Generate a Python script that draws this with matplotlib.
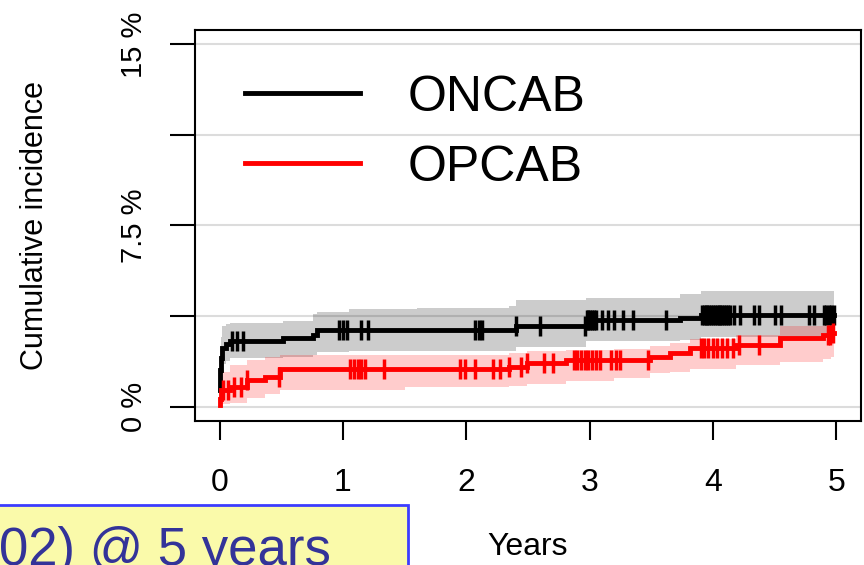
import numpy as np
import matplotlib.pyplot as plt
from matplotlib.patches import Rectangle

plt.rcParams['font.family'] = ['Liberation Sans', 'DejaVu Sans']

# ONCAB: step times (years), cumulative incidence (%) and 95% band
oncab_t = [0, 0.003, 0.01, 0.02, 0.054, 0.08, 0.51, 0.76, 0.79, 1.05, 1.60, 2.35, 2.40, 2.97, 3.73, 3.90]
oncab_v = [0.70, 1.50, 2.00, 2.43, 2.57, 2.70, 2.82, 2.98, 3.15, 3.15, 3.17, 3.19, 3.33, 3.60, 3.67, 3.81]
oncab_lo = [0.20, 0.85, 1.30, 1.75, 1.90, 2.00, 2.05, 2.15, 2.25, 2.28, 2.30, 2.32, 2.45, 2.70, 2.75, 2.90]
oncab_hi = [1.50, 2.40, 2.90, 3.35, 3.40, 3.45, 3.55, 3.85, 3.90, 4.03, 4.10, 4.15, 4.42, 4.48, 4.66, 4.80]
oncab_cens = [0.10, 0.14, 0.19, 0.97, 1.00, 1.03, 1.15, 1.20, 2.07, 2.10, 2.13, 2.40, 2.60,
              2.96, 2.975, 2.99, 3.005, 3.02, 3.035, 3.05, 3.10, 3.15, 3.20, 3.27, 3.35, 3.62,
              3.91, 3.925, 3.94, 3.955, 3.97, 3.985, 4.00, 4.015, 4.03, 4.045, 4.06, 4.075,
              4.09, 4.105, 4.12, 4.14, 4.17, 4.22, 4.33, 4.37, 4.50, 4.55, 4.78, 4.82,
              4.90, 4.92, 4.94, 4.96, 4.98]

# OPCAB
opcab_t = [0, 0.003, 0.008, 0.012, 0.08, 0.22, 0.37, 0.49, 1.50, 2.35, 2.49, 2.81, 3.20, 3.49, 3.65,
           3.81, 4.19, 4.54, 4.89, 4.96]
opcab_v = [0.05, 0.30, 0.55, 0.68, 0.82, 1.10, 1.23, 1.55, 1.55, 1.65, 1.79, 1.93, 1.93, 2.05, 2.20,
           2.41, 2.55, 2.82, 2.95, 3.05]
opcab_lo = [0.00, 0.00, 0.05, 0.10, 0.14, 0.35, 0.50, 0.70, 0.82, 0.86, 0.95, 1.05, 1.20, 1.38, 1.45,
            1.55, 1.70, 1.85, 1.98, 2.05]
opcab_hi = [0.30, 0.80, 1.20, 1.45, 1.72, 1.93, 2.05, 2.13, 2.15, 2.20, 2.30, 2.35, 2.40, 2.50, 2.62,
            2.80, 2.95, 3.35, 3.55, 3.65]
opcab_cens = [0.03, 0.07, 0.12, 0.17, 0.22, 0.48, 1.06, 1.09, 1.12, 1.15, 1.18, 1.33, 1.95, 1.99,
              2.07, 2.22, 2.27, 2.35, 2.44, 2.49, 2.63, 2.70, 2.87, 2.90, 2.93, 2.96, 2.99, 3.02,
              3.05, 3.08, 3.17, 3.21, 3.25, 3.47, 3.90, 3.93, 3.96, 4.00, 4.03, 4.07, 4.11,
              4.16, 4.21, 4.37, 4.93, 4.95, 4.97]

t_end = 4.98
yticks = [0, 3.75, 7.5, 11.25, 15]
ytick_labels = ['0 %', '', '7.5 %', '', '15 %']
xticks = [0, 1, 2, 3, 4, 5]


def extend(t, *vals):
    # carry the last step on to the end of follow-up
    out = [np.append(t, t_end)]
    for v in vals:
        out.append(np.append(v, v[-1]))
    return out


def value_at(t, v, times):
    idx = np.searchsorted(t, times, side='right') - 1
    return np.asarray(v)[idx]


fig = plt.figure(figsize=(8.64, 5.65), dpi=100)
ax = fig.add_axes([0.2257, 0.2549, 0.7708, 0.692])

series = [
    ('ONCAB', 'black', oncab_t, oncab_v, oncab_lo, oncab_hi, oncab_cens),
    ('OPCAB', 'red', opcab_t, opcab_v, opcab_lo, opcab_hi, opcab_cens),
]

# confidence bands first, then the curves and censoring marks
for name, col, t, v, lo, hi, cens in series:
    tt, vv, ll, hh = extend(t, v, lo, hi)
    ax.fill_between(tt, ll, hh, step='post', color=col, alpha=0.2, lw=0)

for name, col, t, v, lo, hi, cens in series:
    tt, vv = extend(t, v)
    ax.plot(tt, vv, drawstyle='steps-post', color=col, lw=3.5, label=name,
            solid_joinstyle='miter')
    ax.plot(cens, value_at(t, v, cens), ls='none', marker='|', ms=14, mew=2.5, color=col)

ax.set_xlim(-0.2, 5.2)
ax.set_ylim(-0.6, 15.6)
ax.set_xticks(xticks)
ax.set_yticks(yticks)
ax.set_yticklabels(ytick_labels, rotation=90, va='center')
ax.grid(axis='y', color='#dcdcdc', lw=1.5)
ax.set_axisbelow(True)

for s in ax.spines.values():
    s.set_linewidth(1.5)
ax.tick_params(axis='x', length=14, width=1.5, pad=20, labelsize=23)
ax.tick_params(axis='y', length=18, width=1.5, pad=16, labelsize=21)

ax.set_xlabel('Years', fontsize=23, labelpad=24)
ax.set_ylabel('Cumulative incidence', fontsize=22, labelpad=50)

ax.legend(loc='upper left', bbox_to_anchor=(0.075, 0.885), frameon=False, fontsize=36,
          handlelength=2.3, handletextpad=0.95, labelspacing=0.48, borderpad=0,
          borderaxespad=0)

# yellow call-out box from the slide, cut by the bottom-left corner
fig.add_artist(Rectangle((-0.01, -0.01), 0.482, 0.116, transform=fig.transFigure,
                         facecolor='#fafaaa', edgecolor='#3c3cff', lw=2))
fig.text(0.383, 0.0, '02) @ 5 years', ha='right', va='baseline', fontsize=38,
         color='#333399')

fig.savefig('out.png', dpi=100)
